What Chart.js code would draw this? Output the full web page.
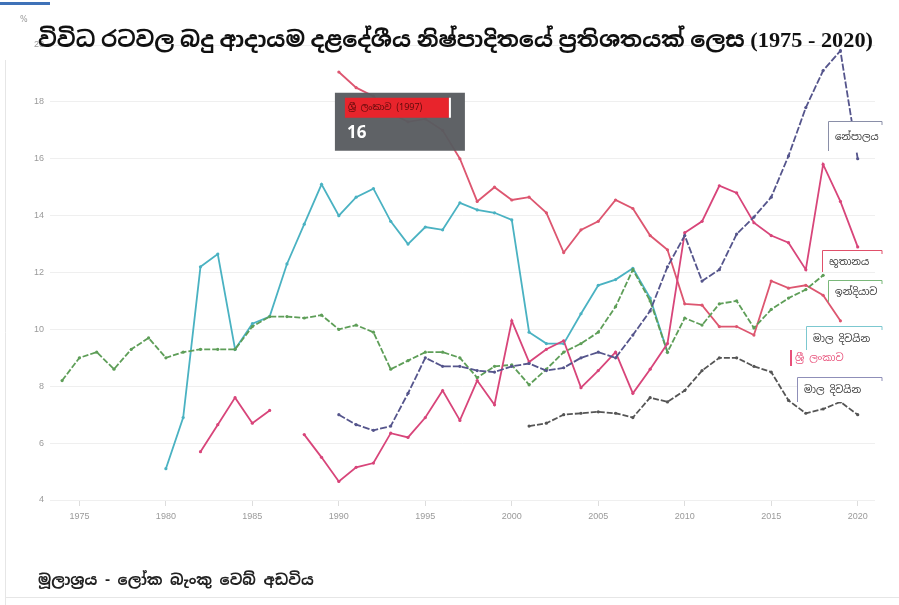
<!DOCTYPE html>
<html>
<head>
<meta charset="utf-8">
<script src="https://cdn.jsdelivr.net/npm/chart.js@4.4.0/dist/chart.umd.min.js"></script>
<style>
  html, body { margin: 0; padding: 0; background: #fff; }
  #wrap { position: relative; width: 899px; height: 605px; }
</style>
</head>
<body>
<div id="wrap"><canvas id="taxChart"></canvas></div>
<script>
const years = [];
for (let y = 1974; y <= 2020; y++) years.push(y);

const yTicks = [4, 6, 8, 10, 12, 14, 16, 18, 20];
const xTicks = [1975, 1980, 1985, 1990, 1995, 2000, 2005, 2010, 2015, 2020];

// values per year, 1974 - 2020 (null = no data)
const nepal = [
  null, null, null, null, null, null, null, null, null, null, null, null, null, null, null, null,
  7.0, 6.65, 6.45, 6.6, 7.75, 9.0, 8.7, 8.7, 8.55, 8.5,
  8.7, 8.8, 8.55, 8.65, 9.0, 9.2, 9.0, 9.8, 10.65, 12.2,
  13.3, 11.7, 12.1, 13.35, 13.95, 14.65, 16.1, 17.8, 19.1, 19.8, 16.0
];
const bhutan = [
  null, null, null, null, null, null, null, null,
  5.7, 6.65, 7.6, 6.7, 7.15, null, 6.3, 5.5,
  4.65, 5.15, 5.3, 6.35, 6.2, 6.9, 7.85, 6.8, 8.2, 7.35,
  10.3, 8.85, 9.3, 9.6, 7.95, 8.55, 9.2, 7.75, 8.6, 9.5,
  13.4, 13.8, 15.05, 14.8, 13.75, 13.3, 13.05, 12.1, 15.8, 14.5, 12.9
];
const india = [
  8.2, 9.0, 9.2, 8.6, 9.3, 9.7, 9.0, 9.2, 9.3, 9.3, 9.3, 10.1, 10.45, 10.45, 10.4, 10.5,
  10.0, 10.15, 9.9, 8.6, 8.9, 9.2, 9.2, 9.0, 8.3, 8.7,
  8.75, 8.05, 8.6, 9.2, 9.5, 9.9, 10.8, 12.1, 11.0, 9.2,
  10.4, 10.15, 10.9, 11.0, 10.05, 10.7, 11.1, 11.4, 11.9, null, null
];
const maldives = [
  null, null, null, null, null, null,
  5.1, 6.9, 12.2, 12.65, 9.3, 10.2, 10.45, 12.3, 13.7, 15.1,
  14.0, 14.65, 14.95, 13.8, 13.0, 13.6, 13.5, 14.45, 14.2, 14.1,
  13.85, 9.9, 9.5, 9.5, 10.55, 11.55, 11.75, 12.15, 11.1, 9.2,
  null, null, null, null, null, null, null, null, null, null, null
];
const sriLanka = [
  null, null, null, null, null, null, null, null, null, null, null, null, null, null, null, null,
  19.05, 18.5, 18.2, 17.6, 17.3, 17.4, 17.0, 16.0, 14.5, 15.0,
  14.55, 14.65, 14.1, 12.7, 13.5, 13.8, 14.55, 14.25, 13.3, 12.8,
  10.9, 10.85, 10.1, 10.1, 9.8, 11.7, 11.45, 11.55, 11.2, 10.3, null
];
const bangladesh = [
  null, null, null, null, null, null, null, null, null, null, null, null, null, null, null, null,
  null, null, null, null, null, null, null, null, null, null,
  null, 6.6, 6.7, 7.0, 7.05, 7.1, 7.05, 6.9, 7.6, 7.45,
  7.85, 8.55, 9.0, 9.0, 8.7, 8.5, 7.5, 7.05, 7.2, 7.45, 7.0
];

const toPoints = arr => years.map((yr, i) => ({ x: yr, y: arr[i] }));

const SINHALA = "'Noto Sans Sinhala', 'Noto Serif Sinhala', 'Iskoola Pota', 'Noto Sans', sans-serif";

// end labels at the right side, boxes keep clear of each other
const endLabels = [
  { text: 'නේපාලය', color: '#8a8fa8', left: 828, top: 121, right: 882, h: 30 },
  { text: 'භූතානය', color: '#e0506a', left: 822, top: 250, right: 882, h: 22 },
  { text: 'ඉන්දියාව', color: '#7ab87a', left: 828, top: 280, right: 882, h: 22 },
  { text: 'මාල දිවයින', color: '#7cc8d0', left: 806, top: 326, right: 882, h: 24 },
  { text: 'ශ්‍රී ලංකාව', color: '#e8507a', left: 790, top: 350, right: 850, h: 16, plain: true },
  { text: 'මාල දිවයින', color: '#8f8fb8', left: 797, top: 377, right: 882, h: 25 }
];

const decor = {
  id: 'decor',
  beforeDraw(chart) {
    const c = chart.ctx;
    c.save();
    c.fillStyle = '#fff';
    c.fillRect(0, 0, chart.width, chart.height);
    c.fillStyle = '#3f72b8';
    c.fillRect(0, 2, 50, 3);
    c.strokeStyle = '#e6e6e6';
    c.lineWidth = 1;
    c.beginPath();
    c.moveTo(5.5, 60); c.lineTo(5.5, 605);
    c.moveTo(5, 597.5); c.lineTo(899, 597.5);
    c.stroke();
    c.fillStyle = '#999';
    c.font = '8px "DejaVu Sans"';
    c.fillText('%', 20, 22);
    c.restore();
  },
  afterDatasetsDraw(chart) {
    const c = chart.ctx;
    c.save();
    endLabels.forEach(l => {
      if (l.plain) {
        c.fillStyle = l.color;
        c.fillRect(l.left, l.top, 2, l.h);
        c.font = '10px ' + SINHALA;
        c.textBaseline = 'middle';
        c.fillText(l.text, l.left + 5, l.top + l.h / 2);
        return;
      }
      c.fillStyle = '#fff';
      c.fillRect(l.left, l.top, l.right - l.left, l.h);
      c.strokeStyle = l.color;
      c.lineWidth = 1;
      c.beginPath();
      c.moveTo(l.left + 0.5, l.top + l.h);
      c.lineTo(l.left + 0.5, l.top + 0.5);
      c.lineTo(l.right, l.top + 0.5);
      c.lineTo(l.right, l.top + 4);
      c.stroke();
      c.fillStyle = '#333';
      c.font = '10px ' + SINHALA;
      c.textBaseline = 'middle';
      c.fillText(l.text, l.left + 7, l.top + l.h / 2 + 1);
    });
    c.restore();
  },
  afterDraw(chart) {
    const c = chart.ctx;
    c.save();
    // title
    const title = 'විවිධ රටවල බදු ආදායම දළදේශීය නිෂ්පාදිතයේ ප්‍රතිශතයක් ලෙස (1975 - 2020)';
    c.font = "bold 22px 'Liberation Serif', " + SINHALA;
    c.fillStyle = '#111';
    c.textBaseline = 'alphabetic';
    const w = c.measureText(title).width;
    const target = 835;
    c.translate(38, 47);
    c.scale(target / w, 1);
    c.fillText(title, 0, 0);
    c.restore();

    // tooltip on Sri Lanka 1997
    c.save();
    const meta = chart.getDatasetMeta(4);
    const idx = years.indexOf(1997);
    const pt = meta.data[idx];
    const bx = pt.x - 125, by = pt.y - 66, bw = 130, bh = 58;
    c.fillStyle = 'rgba(88, 92, 96, 0.96)';
    c.fillRect(bx, by, bw, bh);
    c.fillStyle = '#e8242c';
    c.fillRect(bx + 10, by + 5, 104, 20);
    c.fillStyle = '#fff';
    c.fillRect(bx + 114, by + 5, 2, 20);
    c.fillStyle = '#5a0a0a';
    c.font = '9px ' + SINHALA;
    c.textBaseline = 'middle';
    c.fillText('ශ්‍රී ලංකාව (1997)', bx + 13, by + 15);
    c.fillStyle = '#fff';
    c.font = 'bold 17px "Open Sans", sans-serif';
    c.textBaseline = 'alphabetic';
    c.fillText(String(sriLanka[idx]), bx + 12, by + 45);
    c.restore();

    // source
    c.save();
    c.fillStyle = '#222';
    c.font = 'bold 15px ' + SINHALA;
    c.fillText('මූලාශ්‍රය - ලෝක බැංකු වෙබ් අඩවිය', 38, 585);
    c.restore();
  }
};

function series(label, data, color, dash) {
  return {
    label: label,
    data: toPoints(data),
    borderColor: color,
    backgroundColor: color,
    borderWidth: 1.8,
    borderDash: dash || [],
    pointRadius: 1.6,
    pointBorderWidth: 0,
    pointBackgroundColor: color,
    pointHoverRadius: 0,
    spanGaps: false,
    tension: 0
  };
}

new Chart(document.getElementById('taxChart'), {
  type: 'line',
  data: {
    datasets: [
      series('නේපාලය', nepal, '#55558c', [7, 2]),
      series('භූතානය', bhutan, '#d8457a'),
      series('ඉන්දියාව', india, '#5e9e58', [6, 2]),
      series('මාල දිවයින', maldives, '#4ab2c2'),
      series('ශ්‍රී ලංකාව', sriLanka, '#dd5670'),
      series('බංග්ලාදේශය', bangladesh, '#555555', [6, 2])
    ]
  },
  options: {
    responsive: true,
    maintainAspectRatio: false,
    animation: false,
    layout: { padding: { left: 0, right: 24, top: 45, bottom: 75 } },
    plugins: {
      legend: { display: false },
      tooltip: { enabled: false },
      title: { display: false }
    },
    scales: {
      x: {
        type: 'linear',
        min: 1973.3,
        max: 2021,
        afterFit: s => { s.height = 30; },
        afterBuildTicks: s => { s.ticks = xTicks.map(v => ({ value: v })); },
        grid: { drawOnChartArea: false, drawTicks: true, tickLength: 6, color: '#dddddd' },
        border: { display: false },
        ticks: {
          color: '#9a9a9a',
          font: { size: 9, family: 'Liberation Sans' },
          padding: 5,
          maxRotation: 0,
          callback: v => String(v)
        }
      },
      y: {
        min: 4,
        max: 20,
        afterFit: s => { s.width = 50; },
        afterBuildTicks: s => { s.ticks = yTicks.map(v => ({ value: v })); },
        grid: { color: '#efefef', drawTicks: false },
        border: { display: false },
        ticks: {
          color: '#9a9a9a',
          font: { size: 9, family: 'Liberation Sans' },
          padding: 6
        }
      }
    }
  },
  plugins: [decor]
});
</script>
</body>
</html>
